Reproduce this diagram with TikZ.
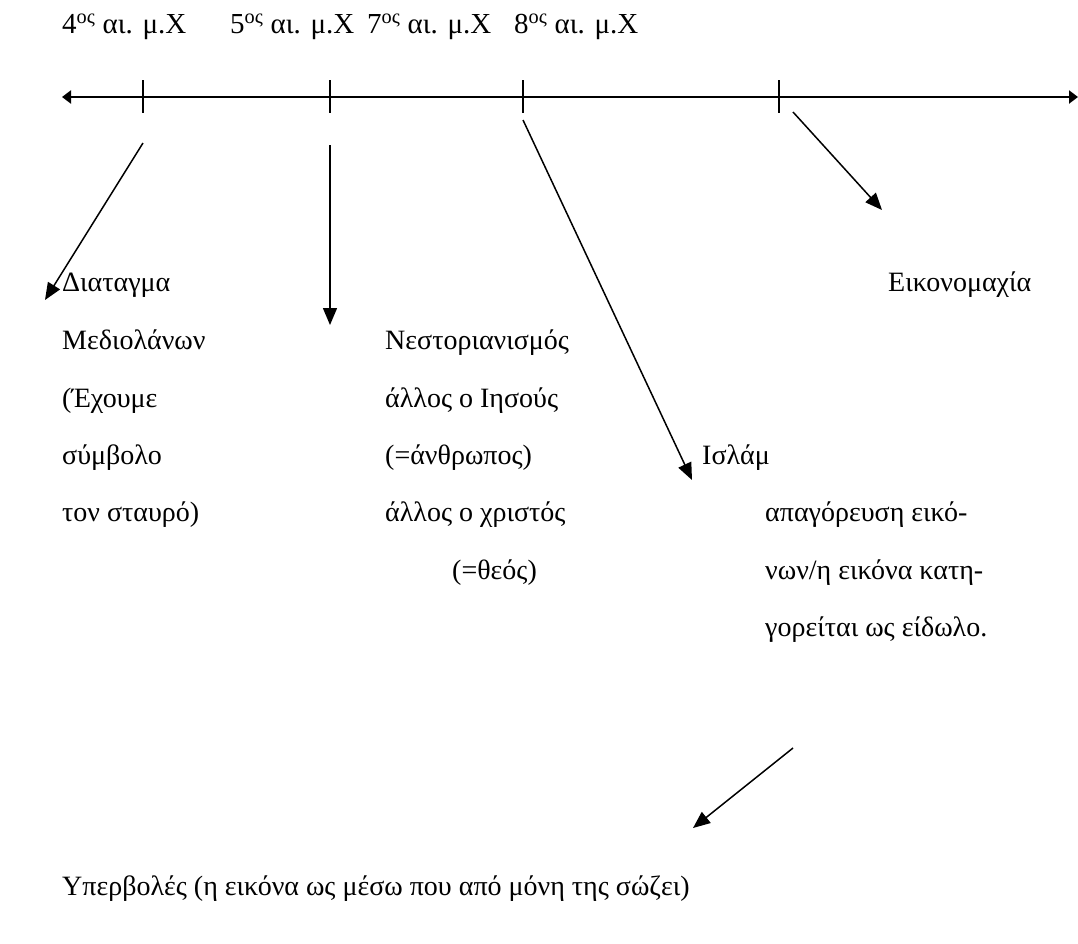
\documentclass[tikz,border=0pt]{standalone}
\usepackage{fontspec}
\setmainfont{Liberation Serif}
\usetikzlibrary{arrows.meta, positioning}

\begin{document}
\begin{tikzpicture}[x=1pt, y=-1pt,
    lbl/.style={anchor=base west, inner sep=0pt, font=\fontsize{28}{32}\selectfont},
    head/.style={lbl, font=\fontsize{29}{34}\selectfont},
    axis/.style={{Triangle[length=9pt,width=13pt]}-{Triangle[length=9pt,width=13pt]}, line width=2.6pt},
    tick/.style={line width=1.2pt},
    arrow/.style={-{Triangle[length=17pt,width=14pt]}, line width=1.5pt}
]
\useasboundingbox (0,0) rectangle (1078,943);

% Time axis
\coordinate (left) at (62,97);
\coordinate (right) at (1078,97);
\draw[axis] (left) -- (right);

% Ticks
\foreach \x in {143, 330, 523, 779}
    \draw[tick] (\x,80) -- (\x,113);

% Centuries
\node[head] (c4) at (62,33) {4\textsuperscript{ος} αι. μ.Χ};
\node[head] (c5) at (230,33) {5\textsuperscript{ος} αι. μ.Χ};
\node[head] (c7) at (367,33) {7\textsuperscript{ος} αι. μ.Χ};
\node[head] (c8) at (514,33) {8\textsuperscript{ος} αι. μ.Χ};

% Edict of Milan
\node[lbl] (d1) at (62,291) {Διαταγμα};
\node[lbl] (d2) at (62,349) {Μεδιολάνων};
\node[lbl] (d3) at (62,407) {(Έχουμε};
\node[lbl] (d4) at (62,464) {σύμβολο};
\node[lbl] (d5) at (62,521) {τον σταυρό)};

% Nestorianism
\node[lbl] (n1) at (385,349) {Νεστοριανισμός};
\node[lbl] (n2) at (385,407) {άλλος ο Ιησούς};
\node[lbl] (n3) at (385,464) {(=άνθρωπος)};
\node[lbl] (n4) at (385,521) {άλλος ο χριστός};
\node[lbl] (n5) at (452,579) {(=θεός)};

% Islam
\node[lbl] (i1) at (702,464) {Ισλάμ};
\node[lbl] (i2) at (765,521) {απαγόρευση εικό-};
\node[lbl] (i3) at (765,579) {νων/η εικόνα κατη-};
\node[lbl] (i4) at (765,636) {γορείται ως είδωλο.};

% Iconoclasm
\node[lbl] (e1) at (888,291) {Εικονομαχία};

% Exaggerations
\node[lbl] (u1) at (62,895) {Υπερβολές (η εικόνα ως μέσω που από μόνη της σώζει)};

% Arrows
\coordinate (a1) at (143,143);
\coordinate (b1) at (45,300);
\coordinate (a2) at (330,145);
\coordinate (b2) at (330,325);
\coordinate (a3) at (523,120);
\coordinate (b3) at (692,480);
\coordinate (a4) at (793,112);
\coordinate (b4) at (882,210);
\coordinate (a5) at (793,748);
\coordinate (b5) at (693,828);
\foreach \i in {1,...,5}
    \draw[arrow] (a\i) -- (b\i);

\end{tikzpicture}
\end{document}
